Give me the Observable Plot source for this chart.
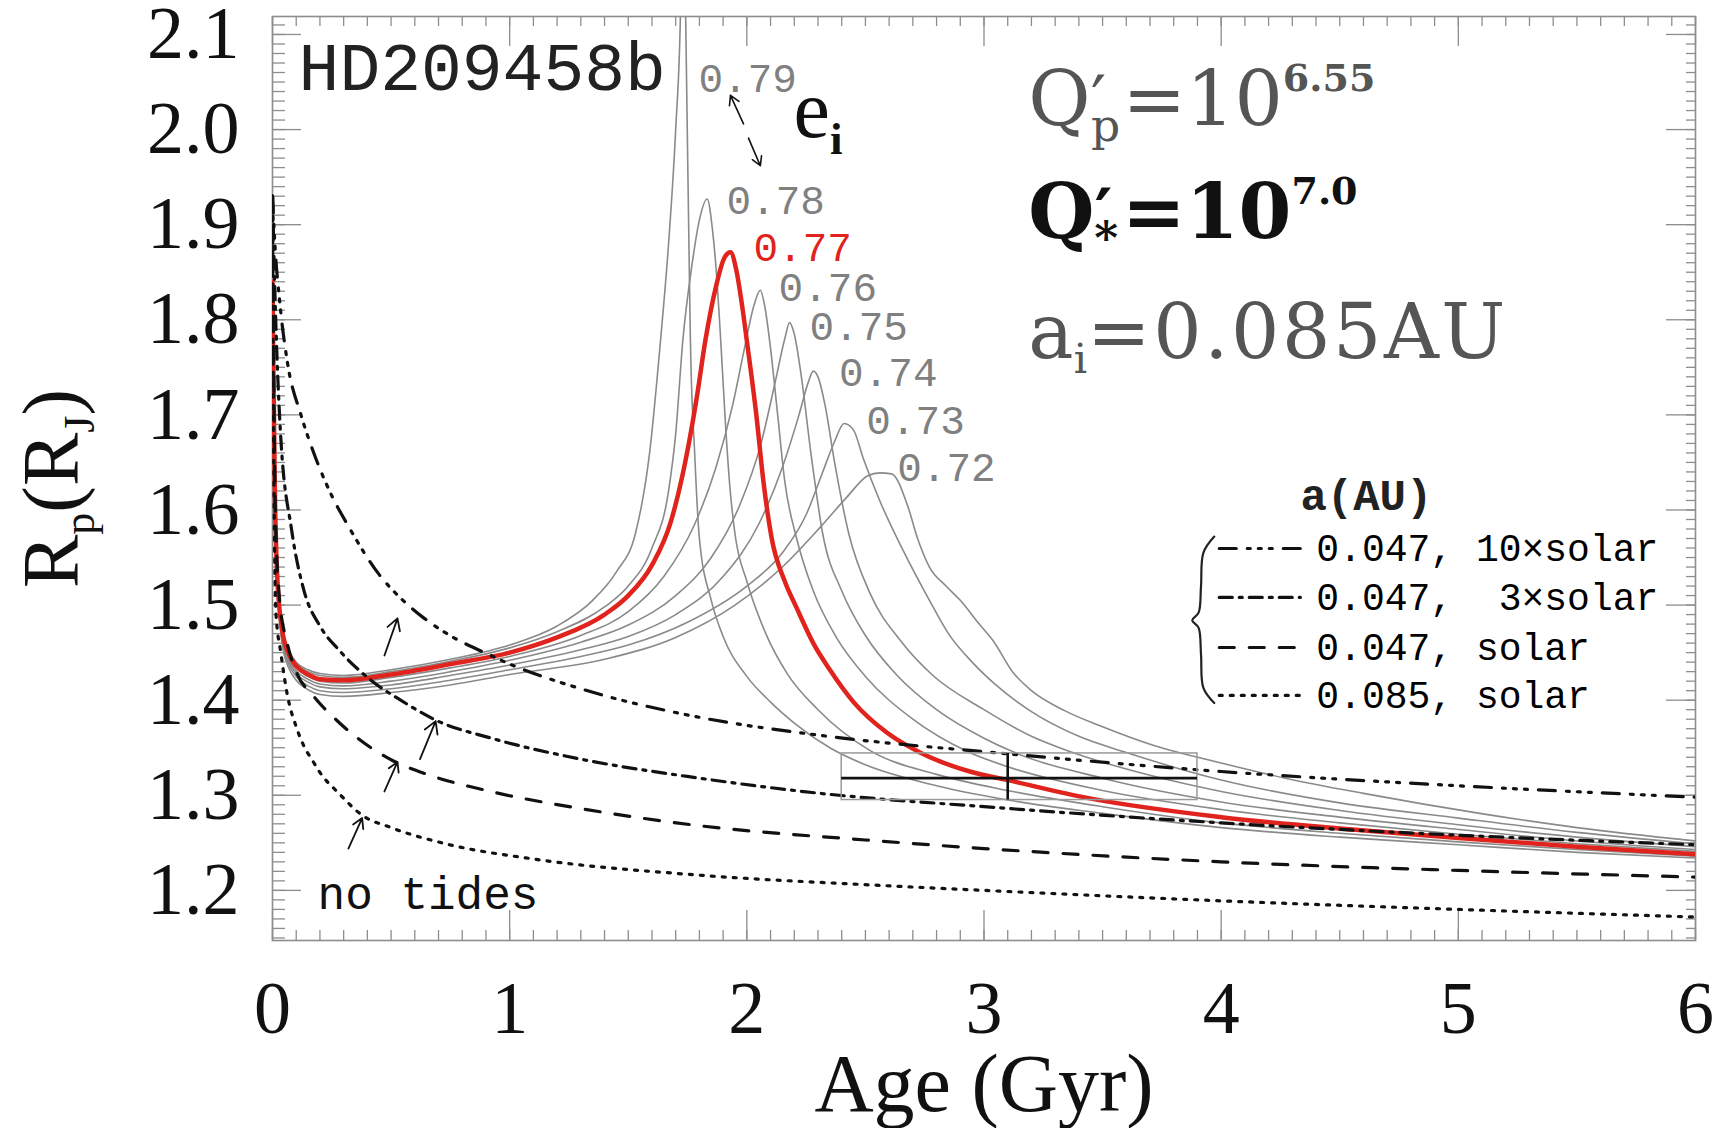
<!DOCTYPE html>
<html><head><meta charset="utf-8">
<script src="https://cdn.jsdelivr.net/npm/d3@7"></script>
<script src="https://cdn.jsdelivr.net/npm/@observablehq/plot@0.6"></script>
<style>
body{margin:0;background:#fff}
svg{display:block}
svg text{white-space:pre}
</style>
</head><body><div id="chart"></div>
<script>
// ---------------- data (Age in Gyr, Rp in R_J) ----------------
const eccLabels = ["0.79","0.78","0.77","0.76","0.75","0.74","0.73","0.72"];
const e079 = [[0,1.87],[0.01,1.62],[0.02,1.53],[0.04,1.478],[0.07,1.452],[0.1,1.44],[0.15,1.432],[0.2,1.428],[0.3,1.426],[0.5,1.432],[0.75,1.443],[1.0,1.458],[1.2,1.478],[1.35,1.505],[1.45,1.535],[1.53,1.575],[1.59,1.66],[1.636,1.778],[1.67,1.88],[1.70,2.0],[1.72,2.12],[1.732,2.3],[1.742,2.12],[1.75,1.98],[1.757,1.86],[1.762,1.78],[1.78,1.66],[1.80,1.57],[1.85,1.505],[1.9,1.467],[2.0,1.425],[2.1,1.398],[2.2,1.376],[2.35,1.35],[2.5,1.332],[2.8,1.31],[3.1,1.295],[3.5,1.281],[4.0,1.266],[4.5,1.256],[5.0,1.248],[5.5,1.24],[6.0,1.234]];
const e078 = [[0,1.87],[0.01,1.62],[0.02,1.53],[0.04,1.476],[0.07,1.45],[0.1,1.438],[0.15,1.43],[0.2,1.426],[0.3,1.424],[0.5,1.43],[0.75,1.441],[1.0,1.455],[1.2,1.472],[1.4,1.498],[1.5,1.52],[1.6,1.56],[1.67,1.62],[1.70,1.68],[1.73,1.778],[1.77,1.86],[1.80,1.905],[1.833,1.927],[1.855,1.895],[1.87,1.855],[1.89,1.778],[1.91,1.69],[1.93,1.62],[1.95,1.575],[2.0,1.525],[2.08,1.47],[2.17,1.428],[2.3,1.39],[2.52,1.347],[2.8,1.322],[3.1,1.305],[3.5,1.288],[4.0,1.271],[4.5,1.26],[5.0,1.251],[5.5,1.243],[6.0,1.236]];
const e077 = [[0,1.84],[0.005,1.72],[0.01,1.62],[0.02,1.53],[0.04,1.475],[0.07,1.448],[0.1,1.436],[0.15,1.427],[0.2,1.422],[0.3,1.421],[0.5,1.427],[0.75,1.438],[1.0,1.45],[1.2,1.466],[1.4,1.49],[1.5,1.51],[1.6,1.542],[1.68,1.588],[1.74,1.65],[1.79,1.72],[1.825,1.778],[1.87,1.835],[1.905,1.865],[1.931,1.871],[1.955,1.853],[1.98,1.815],[2.0,1.778],[2.04,1.70],[2.07,1.63],[2.105,1.57],[2.16,1.525],[2.21,1.497],[2.28,1.46],[2.35,1.432],[2.45,1.398],[2.59,1.366],[2.73,1.345],[2.94,1.325],[3.1,1.316],[3.44,1.297],[4.0,1.277],[4.5,1.265],[5.0,1.255],[5.5,1.246],[6.0,1.238]];
const e076 = [[0,1.87],[0.01,1.62],[0.02,1.53],[0.04,1.472],[0.07,1.446],[0.1,1.434],[0.15,1.425],[0.2,1.42],[0.3,1.418],[0.5,1.424],[0.75,1.434],[1.0,1.446],[1.3,1.468],[1.5,1.493],[1.65,1.53],[1.78,1.585],[1.87,1.645],[1.94,1.71],[1.99,1.77],[2.03,1.815],[2.057,1.831],[2.075,1.815],[2.1,1.77],[2.13,1.70],[2.16,1.63],[2.21,1.57],[2.28,1.515],[2.38,1.465],[2.5,1.425],[2.7,1.38],[2.93,1.346],[3.1,1.33],[3.5,1.305],[4.0,1.285],[4.5,1.271],[5.0,1.259],[5.5,1.249],[6.0,1.241]];
const e075 = [[0,1.87],[0.01,1.62],[0.02,1.53],[0.04,1.47],[0.07,1.443],[0.1,1.431],[0.15,1.422],[0.2,1.417],[0.3,1.415],[0.5,1.42],[0.75,1.43],[1.0,1.442],[1.3,1.461],[1.5,1.479],[1.7,1.51],[1.85,1.55],[1.97,1.605],[2.06,1.67],[2.12,1.735],[2.16,1.78],[2.18,1.797],[2.2,1.785],[2.23,1.74],[2.27,1.66],[2.32,1.575],[2.4,1.515],[2.5,1.468],[2.63,1.427],[2.8,1.39],[3.0,1.36],[3.12,1.346],[3.5,1.318],[4.0,1.293],[4.5,1.277],[5.0,1.264],[5.5,1.252],[6.0,1.243]];
const e074 = [[0,1.87],[0.01,1.62],[0.02,1.53],[0.04,1.467],[0.07,1.44],[0.1,1.428],[0.15,1.419],[0.2,1.414],[0.3,1.412],[0.5,1.416],[0.75,1.426],[1.0,1.437],[1.3,1.453],[1.5,1.467],[1.7,1.49],[1.9,1.53],[2.05,1.585],[2.15,1.645],[2.22,1.70],[2.26,1.735],[2.28,1.746],[2.3,1.74],[2.33,1.71],[2.37,1.65],[2.43,1.575],[2.52,1.512],[2.65,1.462],[2.78,1.427],[3.0,1.39],[3.2,1.362],[3.35,1.347],[3.7,1.321],[4.0,1.304],[4.5,1.284],[5.0,1.269],[5.5,1.256],[6.0,1.246]];
const e073 = [[0,1.87],[0.01,1.62],[0.02,1.53],[0.04,1.464],[0.07,1.437],[0.1,1.425],[0.15,1.415],[0.2,1.41],[0.3,1.408],[0.5,1.412],[0.75,1.421],[1.0,1.432],[1.3,1.446],[1.5,1.458],[1.75,1.482],[2.0,1.52],[2.15,1.555],[2.25,1.595],[2.32,1.64],[2.37,1.672],[2.41,1.691],[2.45,1.684],[2.49,1.655],[2.56,1.61],[2.66,1.557],[2.77,1.505],[2.85,1.47],[2.95,1.44],[3.05,1.416],[3.2,1.388],[3.4,1.362],[3.6,1.345],[4.0,1.316],[4.5,1.292],[5.0,1.276],[5.5,1.261],[6.0,1.249]];
const e072 = [[0,1.87],[0.01,1.62],[0.02,1.53],[0.04,1.46],[0.07,1.433],[0.1,1.421],[0.15,1.411],[0.2,1.406],[0.3,1.404],[0.5,1.408],[0.75,1.416],[1.0,1.427],[1.4,1.443],[1.7,1.466],[1.95,1.5],[2.15,1.54],[2.31,1.582],[2.42,1.613],[2.51,1.636],[2.56,1.639],[2.61,1.638],[2.68,1.603],[2.72,1.57],[2.77,1.54],[2.84,1.52],[2.9,1.505],[2.98,1.48],[3.04,1.462],[3.12,1.43],[3.2,1.41],[3.34,1.389],[3.5,1.372],[3.72,1.352],[4.0,1.334],[4.27,1.318],[4.6,1.302],[5.09,1.281],[5.5,1.266],[6.0,1.252]];

// models without eccentricity (a = 0.047 AU with opacity, and a = 0.085 AU)
const tenXsolar = [[0,1.93],[0.01,1.88],[0.03,1.82],[0.063,1.755],[0.12,1.70],[0.171,1.662],[0.25,1.615],[0.32,1.583],[0.45,1.532],[0.55,1.505],[0.64,1.486],[0.735,1.47],[0.92,1.447],[1.0,1.438],[1.3,1.412],[1.8,1.382],[2.31,1.363],[3.08,1.344],[4.0,1.325],[5.0,1.31],[6.0,1.298]];
const threeXsolar = [[0,1.93],[0.01,1.83],[0.034,1.68],[0.08,1.58],[0.133,1.515],[0.2,1.478],[0.283,1.452],[0.415,1.421],[0.547,1.399],[0.688,1.379],[0.923,1.36],[1.3,1.338],[1.8,1.318],[2.31,1.302],[3.0,1.288],[4.0,1.271],[5.0,1.258],[6.0,1.248]];
const solar047 = [[0,1.93],[0.004,1.78],[0.012,1.6],[0.03,1.505],[0.06,1.462],[0.1,1.43],[0.171,1.405],[0.283,1.376],[0.415,1.35],[0.51,1.336],[0.64,1.323],[0.92,1.304],[1.3,1.286],[1.8,1.268],[2.5,1.253],[3.0,1.244],[4.0,1.23],[5.0,1.221],[6.0,1.214]];
const solar085 = [[0,1.93],[0.003,1.75],[0.008,1.58],[0.015,1.49],[0.035,1.45],[0.063,1.405],[0.1,1.372],[0.13,1.353],[0.17,1.336],[0.2,1.324],[0.28,1.302],[0.378,1.279],[0.5,1.266],[0.73,1.249],[1.1,1.233],[1.8,1.216],[2.5,1.206],[3.0,1.2],[4.0,1.189],[5.0,1.18],[6.0,1.172]];

// observed HD209458b: age and radius with ranges
const obsAge = [3.1], obsAgeLo = [2.4], obsAgeHi = [3.9];
const obsR = [1.318], obsRLo = [1.295], obsRHi = [1.344];

// ticks
const xMajor = [0,1,2,3,4,5,6];
const yMajor = [1.2,1.3,1.4,1.5,1.6,1.7,1.8,1.9,2.0,2.1];
const xMinor = d3.range(0, 60.5, 1).map(d => d / 10);
const yMinor = d3.range(115, 212, 1).map(d => d / 100);

// annotation anchors (data coordinates)
const eLabelT = [1.796,1.914,2.028,2.134,2.264,2.389,2.504,2.634];
const eLabelR = [2.053,1.925,1.876,1.834,1.793,1.744,1.694,1.644];
const legendNames = ["0.047, 10×solar","0.047,  3×solar","0.047, solar","0.085, solar"];
const legendR = [1.5595,1.508,1.4554,1.405];
const legendSampleT = [3.992, 4.334];
const legendTextT = 4.401;
const arrowsLeft = [
  {t1:0.472,r1:1.447,t2:0.527,r2:1.486},
  {t1:0.622,r1:1.338,t2:0.688,r2:1.378},
  {t1:0.472,r1:1.304,t2:0.527,r2:1.335},
  {t1:0.32,r1:1.244,t2:0.378,r2:1.276}];
const arrowsE = [
  {t1:1.986,r1:2.006,t2:1.931,r2:2.036},
  {t1:2.007,r1:1.991,t2:2.057,r2:1.962}];
const braceT = [3.971,3.925,3.915,3.905,3.878,3.905,3.915,3.925,3.971];
const braceR = [1.572,1.555,1.52,1.492,1.484,1.476,1.448,1.413,1.397];

// ---------------- layout ----------------
const W = 1719, H = 1128, mL = 272, mR = 24, mT = 16, mB = 188;
const fH = H - mT - mB, fW = W - mL - mR;
const GRID = "#8d8d8d";
const grayRows = [["0.79",e079],["0.78",e078],["0.76",e076],["0.75",e075],["0.74",e074],["0.73",e073],["0.72",e072]]
  .flatMap(([e, pts]) => pts.map(([t, R]) => ({e, t, R})));
const redRows = e077.map(([t, R]) => ({t, R}));
const toRows = pts => pts.map(([t, R]) => ({t, R}));
const modelStyles = [
  {pts: tenXsolar, dash: "17,11,3,8,3,8,3,11"},
  {pts: threeXsolar, dash: "13,7,3,7"},
  {pts: solar047, dash: "15,15"},
  {pts: solar085, dash: "3,8"}];
const eLabels = eccLabels.map((e, i) => ({e, t: eLabelT[i], R: eLabelR[i]}));
const yMinorIn = yMinor.filter(d => d > 1.147 && d < 2.119);

const plot = Plot.plot({
  width: W, height: H,
  marginLeft: mL, marginRight: mR, marginTop: mT, marginBottom: mB,
  x: {domain: [0, 6]},
  y: {domain: [1.1473, 2.1189]},
  style: {background: "#fff", color: "#111", fontFamily: "Liberation Serif"},
  marks: [
    // ticks all round, inward (IDL style)
    Plot.tickX(xMinor, {x: d => d, insetTop: fH - 10, stroke: GRID, strokeWidth: 1.3}),
    Plot.tickX(xMinor, {x: d => d, insetBottom: fH - 10, stroke: GRID, strokeWidth: 1.3}),
    Plot.tickX(xMajor, {x: d => d, insetTop: fH - 30, stroke: GRID, strokeWidth: 1.3}),
    Plot.tickX(xMajor, {x: d => d, insetBottom: fH - 30, stroke: GRID, strokeWidth: 1.3}),
    Plot.tickY(yMinorIn, {y: d => d, insetRight: fW - 13, stroke: GRID, strokeWidth: 1.3}),
    Plot.tickY(yMinorIn, {y: d => d, insetLeft: fW - 9, stroke: GRID, strokeWidth: 1.3}),
    Plot.tickY(yMajor, {y: d => d, insetRight: fW - 29, stroke: GRID, strokeWidth: 1.3}),
    Plot.tickY(yMajor, {y: d => d, insetLeft: fW - 29, stroke: GRID, strokeWidth: 1.3}),
    Plot.frame({stroke: GRID, strokeWidth: 1.6}),
    Plot.axisX({ticks: xMajor, tickSize: 0, tickPadding: 40, fontSize: 74, tickFormat: d3.format("d"), label: null}),
    Plot.axisY({ticks: yMajor, tickSize: 0, tickPadding: 33, fontSize: 74, tickFormat: d3.format(".1f"), label: null}),
    // eccentric tracks
    Plot.line(grayRows, {x: "t", y: "R", z: "e", stroke: "#8a8a8a", strokeWidth: 1.6, curve: "monotone-x", clip: true}),
    Plot.line(redRows, {x: "t", y: "R", stroke: "#e0231c", strokeWidth: 4.5, curve: "monotone-x", clip: true}),
    // circular models
    ...modelStyles.map(s => Plot.line(toRows(s.pts), {x: "t", y: "R", stroke: "#111", strokeWidth: 3.2, strokeDasharray: s.dash, curve: "monotone-x", clip: true})),
    // observation box + cross
    Plot.rect([0], {x1: () => obsAgeLo[0], x2: () => obsAgeHi[0], y1: () => obsRLo[0], y2: () => obsRHi[0], fill: "none", stroke: "#9a9a9a", strokeWidth: 1.5}),
    Plot.ruleY(obsR, {y: d => d, x1: obsAgeLo[0], x2: obsAgeHi[0], stroke: "#111", strokeWidth: 2.6}),
    Plot.ruleX(obsAge, {x: d => d, y1: obsRLo[0], y2: obsRHi[0], stroke: "#111", strokeWidth: 2.6}),
    // legend
    ...modelStyles.map((s, i) => Plot.line(legendSampleT.map(t => ({t, R: legendR[i]})), {x: "t", y: "R", stroke: "#111", strokeWidth: 3.2, strokeDasharray: s.dash})),
    Plot.text(legendNames.map((n, i) => ({n, R: legendR[i]})), {x: () => legendTextT, y: "R", text: "n", textAnchor: "start", lineAnchor: "middle", fontSize: 38, fontFamily: "Liberation Mono", fill: "#000"}),
    Plot.text(["a(AU)"], {x: () => 4.334, y: () => 1.5995, text: d => d, textAnchor: "start", lineAnchor: "bottom", fontSize: 44, fontFamily: "Liberation Mono", fontWeight: "bold", fill: "#222"}),
    Plot.line(braceT.map((t, i) => ({t, R: braceR[i]})), {x: "t", y: "R", stroke: "#222", strokeWidth: 2.2, curve: "catmull-rom"}),
    // arrows
    Plot.arrow(arrowsLeft, {x1: "t1", y1: "r1", x2: "t2", y2: "r2", stroke: "#111", strokeWidth: 1.8, headLength: 12}),
    Plot.arrow(arrowsE, {x1: "t1", y1: "r1", x2: "t2", y2: "r2", stroke: "#111", strokeWidth: 1.6, headLength: 11}),
    // labels
    Plot.text(eLabels, {x: "t", y: "R", text: "e", textAnchor: "start", lineAnchor: "middle", fontSize: 41, fontFamily: "Liberation Mono",
      fill: d => d.e === "0.77" ? "#e0231c" : "#808080", fontWeight: d => d.e === "0.77" ? "bold" : "normal"}),
    Plot.text(["HD209458b"], {x: () => 0.11, y: () => 2.0411, text: d => d, textAnchor: "start", lineAnchor: "bottom", fontSize: 68, fontFamily: "Liberation Mono", fill: "#222"}),
    Plot.text(["no tides"], {x: () => 0.19, y: () => 1.180, text: d => d, textAnchor: "start", lineAnchor: "bottom", fontSize: 46, fontFamily: "Liberation Mono", fill: "#111"}),
    Plot.text(["#ei"], {x: () => 2.197, y: () => 1.9917, text: d => d, textAnchor: "start", lineAnchor: "bottom", fontSize: 82, fill: "#111"}),
    Plot.text(["#Qp"], {x: () => 3.187, y: () => 2.0043, text: d => d, textAnchor: "start", lineAnchor: "bottom", fontSize: 76, fontFamily: "DejaVu Serif", fill: "#555"}),
    Plot.text(["#Qs"], {x: () => 3.187, y: () => 1.8855, text: d => d, textAnchor: "start", lineAnchor: "bottom", fontSize: 76, fontFamily: "DejaVu Serif", fontWeight: "bold", fill: "#111"}),
    Plot.text(["#ai"], {x: () => 3.187, y: () => 1.7596, text: d => d, textAnchor: "start", lineAnchor: "bottom", fontSize: 76, fontFamily: "DejaVu Serif", fill: "#555"}),
    Plot.text(["#Age"], {frameAnchor: "bottom", dy: 170, text: d => d, lineAnchor: "bottom", fontSize: 82, fill: "#111"}),
    Plot.text(["#Rp"], {frameAnchor: "left", dx: -195, dy: 10, rotate: -90, text: d => d, textAnchor: "middle", lineAnchor: "bottom", fontSize: 80, fill: "#111"})
  ]
});

// rich text (sub/superscripts); s = base font size in px
const rich = {
  "#ei": {s: 82, parts: [{t: "e"}, {t: "i", r: "sub", k: 0.55, w: "bold"}]},
  "#Qp": {s: 76, parts: [{t: "Q"}, {t: "′", k: 0.9}, {t: "p", r: "sub", k: 0.6, dx: -0.2}, {t: "=10", dx: 0.03}, {t: "6.55", r: "sup", k: 0.5, w: "bold"}]},
  "#Qs": {s: 76, parts: [{t: "Q"}, {t: "′", k: 0.9}, {t: "*", r: "sub", k: 0.6, dx: -0.24}, {t: "=10", dx: 0.05}, {t: "7.0", r: "sup", k: 0.5}]},
  "#ai": {s: 76, parts: [{t: "a"}, {t: "i", r: "sub", k: 0.55}, {t: "=0.085AU", ls: 2.6}]},
  "#Age": {s: 82, parts: [{t: "Age (Gyr)"}]},
  "#Rp": {s: 80, parts: [{t: "R"}, {t: "p", r: "sub", k: 0.55}, {t: "(R"}, {t: "J", r: "sub", k: 0.55}, {t: ")"}]}
};
const NS = "http://www.w3.org/2000/svg";
plot.querySelectorAll("text").forEach(el => {
  const spec = rich[el.textContent];
  if (!spec) return;
  const s = spec.s;
  el.textContent = "";
  let cur = 0;
  for (const p of spec.parts) {
    const ts = document.createElementNS(NS, "tspan");
    ts.textContent = p.t;
    const k = p.k || 1;
    const off = p.r === "sub" ? 0.2 * s : p.r === "sup" ? -0.45 * s : 0;
    if (off !== cur) ts.setAttribute("dy", off - cur);
    cur = off;
    if (p.dx) ts.setAttribute("dx", p.dx * s);
    if (k !== 1) ts.setAttribute("font-size", k * s);
    if (p.w) ts.setAttribute("font-weight", p.w);
    if (p.ls) ts.setAttribute("letter-spacing", p.ls);
    el.appendChild(ts);
  }
});
document.getElementById("chart").appendChild(plot);
</script>
</body></html>
